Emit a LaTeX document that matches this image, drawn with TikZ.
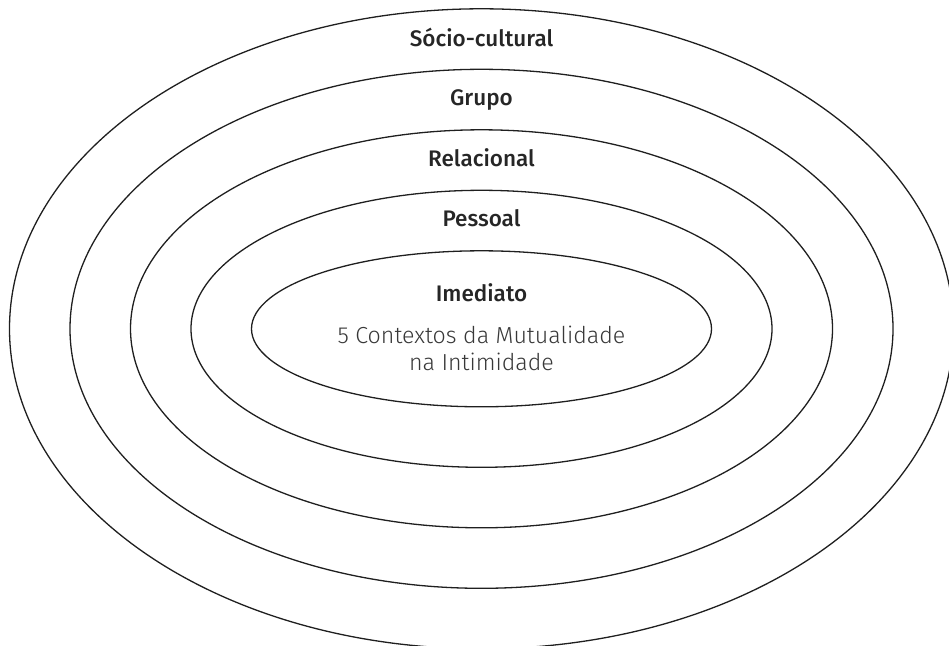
\documentclass[tikz,border=0pt]{standalone}
\usepackage{fontspec}
\setmainfont{Fira Sans}
\newfontfamily\labfont{Fira Sans Medium}
\newfontfamily\lightfont{Fira Sans Light}
\begin{document}
\begin{tikzpicture}[x=1pt,y=-1pt,
  ring/.style={draw=black!88,line width=1.3pt},
  lab/.style={font=\labfont\fontsize{22.5}{26}\selectfont,text=black!85,anchor=base,inner sep=0pt},
  sub/.style={font=\lightfont\fontsize{23.2}{27.7}\selectfont,text=black!78,align=center,anchor=base,inner sep=0pt}]
\useasboundingbox (0,0) rectangle (949,645);
\clip (0,0) rectangle (949,645);
\coordinate (c) at (481.5,328.8);
\foreach \r in {0,1,2,3,4}{
  \draw[ring] (c) ellipse [x radius={230+60.5*\r}, y radius={78+60.5*\r}];
}
\node[lab] (soc) at (481.5,46) {Sócio-cultural};
\node[lab] (gru) at (481.5,105.5) {Grupo};
\node[lab] (rel) at (481.5,166) {Relacional};
\node[lab] (pes) at (481.5,226.5) {Pessoal};
\node[lab] (ime) at (481.5,301.5) {Imediato};
\node[sub] (ctx) at (481.5,343) {5 Contextos da Mutualidade};
\node[sub] (int) at (481.5,370.7) {na Intimidade};
\end{tikzpicture}
\end{document}
